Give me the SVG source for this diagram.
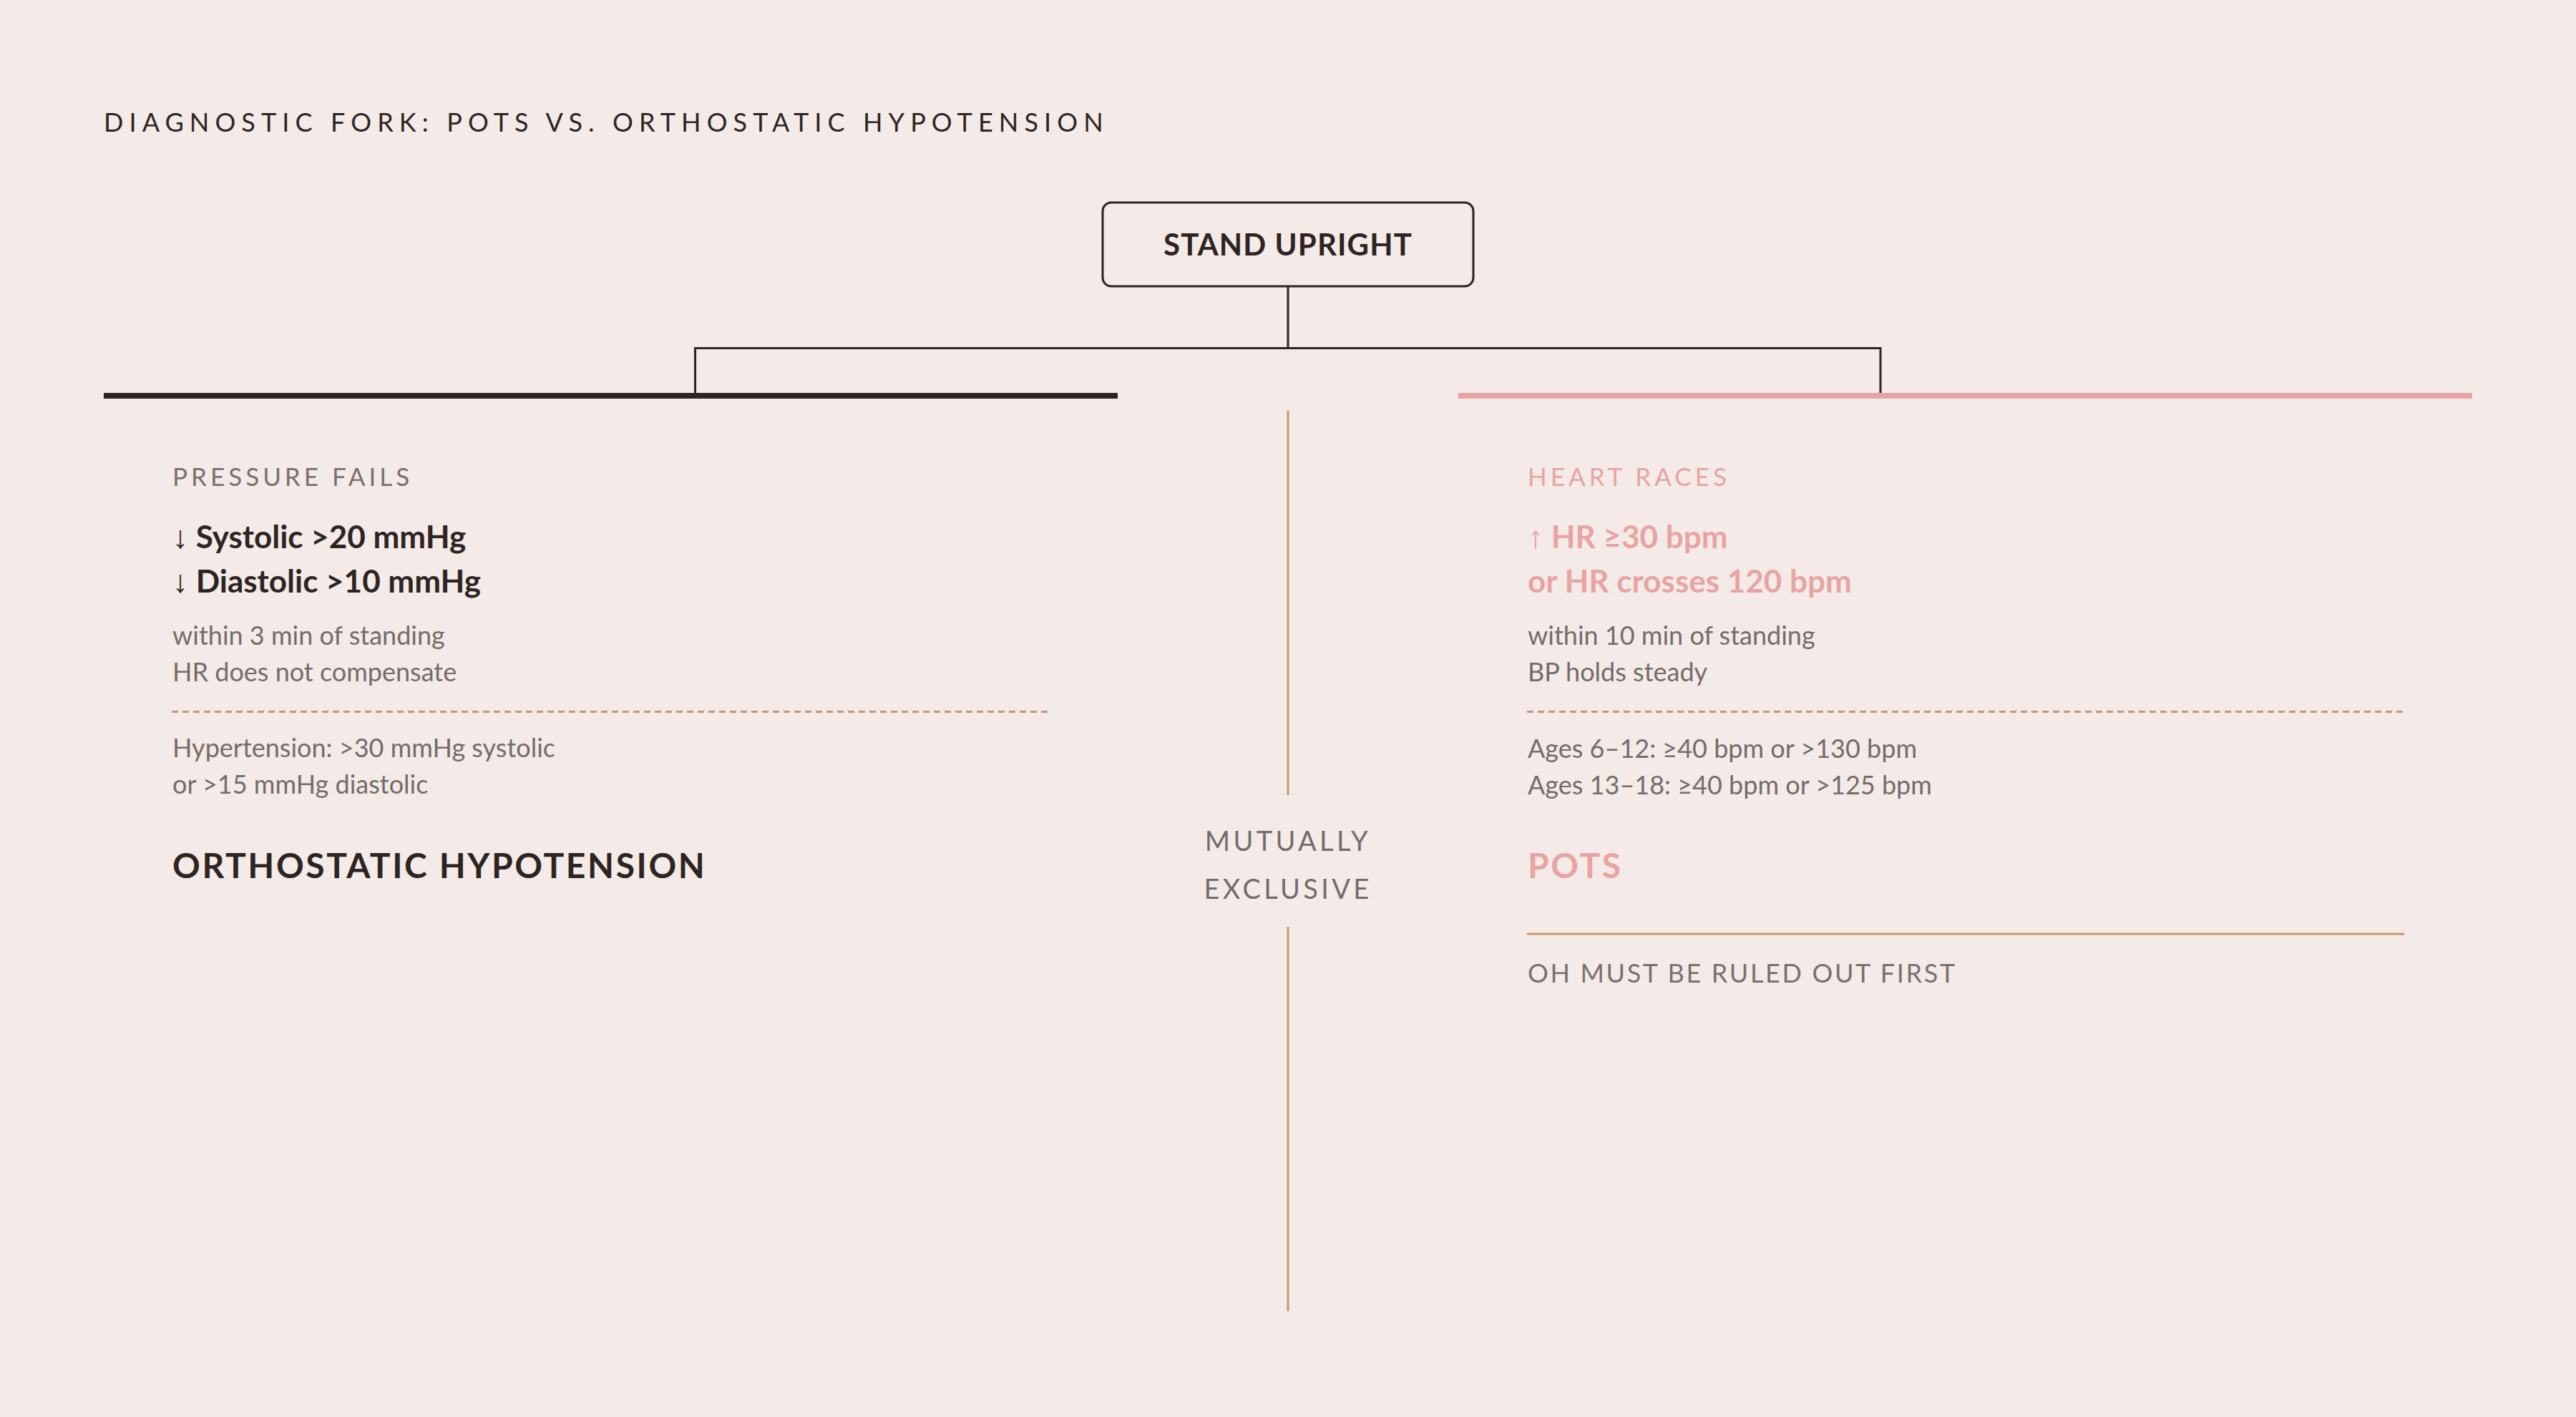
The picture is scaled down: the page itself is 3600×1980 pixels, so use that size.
<svg xmlns="http://www.w3.org/2000/svg" width="3600" height="1980" viewBox="0 0 3600 1980">
<style>
text{font-family:Lato,"Noto Sans","Liberation Sans",sans-serif}
.title{font-size:36px;letter-spacing:8.1px;fill:#2e2422}
.kicker{font-size:35px;letter-spacing:5px}
.note{font-size:36px;letter-spacing:2.65px}
.big{font-size:44px;font-weight:700}
.arrow{font-family:"Liberation Sans",sans-serif;font-weight:400}
.gray{font-size:36px;fill:#756b68}
.verdict{font-size:48px;font-weight:700;letter-spacing:2.6px}
.dark{fill:#2e2422}
.pink{fill:#e8a3a3}
.muted{fill:#7a706d}
.conn{stroke:#2e2422;stroke-width:3;fill:none}
.tan{stroke:#c9966b;stroke-width:3;fill:none}
.dash{stroke:#c9966b;stroke-width:3;stroke-dasharray:9 6;fill:none}
</style>
<rect width="3600" height="1980" fill="#f4ebe8"/>
<text class="title" x="145" y="184">DIAGNOSTIC FORK: POTS VS. ORTHOSTATIC HYPOTENSION</text>

<g id="connectors">
<path class="conn" d="M1800 400 V486.5 M971.5 486.5 H2628 M971.5 485 V549 M2628 485 V549"/>
<path class="tan" d="M1800 574 V1111 M1800 1295 V1832" stroke-width="2.5"/>
</g>

<g id="stand-upright">
<rect x="1541" y="283" width="518" height="117" rx="12" fill="none" stroke="#2e2422" stroke-width="3"/>
<text x="1800" y="357" text-anchor="middle" font-size="42" font-weight="700" letter-spacing="1.1" fill="#2e2422">STAND UPRIGHT</text>
</g>

<g id="mutually-exclusive">
<text x="1800" y="1189" text-anchor="middle" font-size="38" letter-spacing="4.3" fill="#756b68">MUTUALLY</text>
<text x="1800" y="1256" text-anchor="middle" font-size="38" letter-spacing="4.3" fill="#756b68">EXCLUSIVE</text>
</g>

<g id="orthostatic-hypotension">
<rect x="145" y="549" width="1417" height="8" fill="#2e2422"/>
<text class="kicker muted" x="241" y="679">PRESSURE FAILS</text>
<text class="big dark" x="241" y="766"><tspan class="arrow">↓</tspan> Systolic &gt;20 mmHg</text>
<text class="big dark" x="241" y="828"><tspan class="arrow">↓</tspan> Diastolic &gt;10 mmHg</text>
<text class="gray" x="241" y="900.5">within 3 min of standing</text>
<text class="gray" x="241" y="951.5">HR does not compensate</text>
<path class="dash" d="M240 994.5 H1466"/>
<text class="gray" x="241" y="1058">Hypertension: &gt;30 mmHg systolic</text>
<text class="gray" x="241" y="1109">or &gt;15 mmHg diastolic</text>
<text class="verdict dark" x="241" y="1227">ORTHOSTATIC HYPOTENSION</text>
</g>

<g id="pots">
<rect x="2038" y="549" width="1417" height="8" fill="#e8a3a3"/>
<text class="kicker pink" x="2135" y="679">HEART RACES</text>
<text class="big pink" x="2135" y="766"><tspan class="arrow">↑</tspan> HR ≥30 bpm</text>
<text class="big pink" x="2135" y="828">or HR crosses 120 bpm</text>
<text class="gray" x="2135" y="900.5">within 10 min of standing</text>
<text class="gray" x="2135" y="951.5">BP holds steady</text>
<path class="dash" d="M2134 994.5 H3360"/>
<text class="gray" x="2135" y="1059">Ages 6–12: ≥40 bpm or &gt;130 bpm</text>
<text class="gray" x="2135" y="1110">Ages 13–18: ≥40 bpm or &gt;125 bpm</text>
<text class="verdict pink" x="2135" y="1227">POTS</text>
<path class="tan" d="M2134 1305 H3360"/>
<text class="note muted" x="2135" y="1372.5">OH MUST BE RULED OUT FIRST</text>
</g>
</svg>
